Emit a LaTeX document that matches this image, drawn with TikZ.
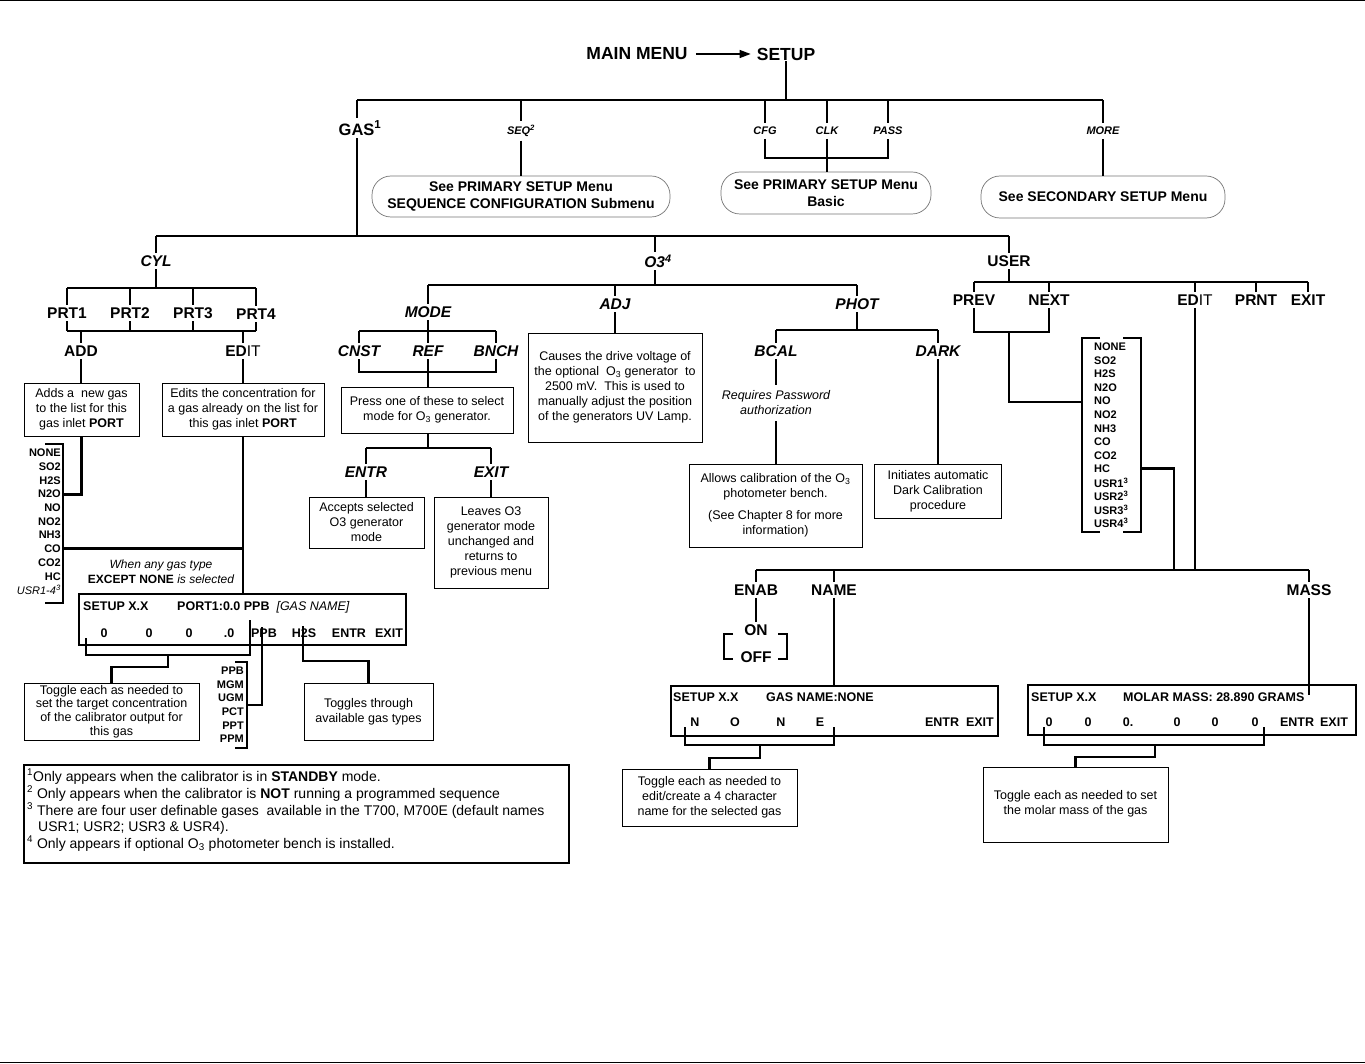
\documentclass[tikz,border=0pt]{standalone}
\usepackage{fontspec}
\setmainfont{Liberation Sans}
\usetikzlibrary{arrows.meta}
\newcommand\fsz[2]{\fontsize{#1}{#2}\selectfont}
\begin{document}
\begin{tikzpicture}[x=1pt,y=-1pt,
  thk/.style={line width=2.9pt},
  thn/.style={line width=1.6pt},
  bx/.style={draw,line width=0.9pt,align=center,font=\fsz{12.5}{15},inner sep=0pt},
  rbx/.style={draw=black!55,line width=0.7pt,rounded corners=19pt,align=center,font=\bfseries\fsz{14}{17},inner sep=0pt},
  scr/.style={draw,line width=2pt,inner sep=0pt},
  lb/.style={font=\bfseries\fsz{15.5}{18},inner sep=1pt,outer sep=2pt},
  lbi/.style={font=\bfseries\itshape\fsz{15.5}{18},inner sep=1pt,outer sep=2pt},
  sm/.style={font=\bfseries\itshape\fsz{11}{13},inner sep=1pt,outer sep=3pt},
  gl/.style={font=\bfseries\fsz{11}{13},inner sep=0pt},
  st/.style={font=\bfseries\fsz{12.5}{14},inner sep=0pt},
  fn/.style={font=\fsz{14}{16},inner sep=0pt,anchor=base west},
]
\useasboundingbox (0,0) rectangle (1365,1064);
\draw[line width=1pt] (0,1) -- (1365,1);
\draw[line width=1pt] (0,1062) -- (1365,1062);

% ---------- top ----------
\node[font=\bfseries\fsz{17.5}{20},inner sep=1pt] (main) at (637,54) {MAIN MENU};
\node[font=\bfseries\fsz{17.5}{20},inner sep=1pt] (setup) at (786,54) {SETUP};
\draw[line width=1.3pt,-{Triangle[length=11pt,width=8pt]}] ([xshift=7pt]main.east) -- ([xshift=-5pt]setup.west);
\coordinate (tbS) at (786,100);
\coordinate (tbL) at (357,100);
\coordinate (tbR) at (1103,100);
\draw[thn] (setup.south) -- (tbS);
\draw[thk] (tbL) -- (tbR);
\node[lb,font=\bfseries\fsz{16.5}{18}] (gas) at (360,128) {GAS\textsuperscript{1}};
\draw[thk] (tbL) -- (tbL |- gas.north);
\node[sm] (seq) at (521,131) {SEQ\textsuperscript{2}};
\node[sm] (cfg) at (765,131) {CFG};
\node[sm] (clk) at (827,131) {CLK};
\node[sm] (pass) at (888,131) {PASS};
\node[sm] (more) at (1103,131) {MORE};
\foreach \n in {seq,cfg,clk,pass,more} \draw[thk] (\n.north |- tbL) -- (\n.north);
\node[rbx,minimum width=298pt,minimum height=41pt] (seqbox) at (521,196.5) {See PRIMARY SETUP Menu\\SEQUENCE CONFIGURATION Submenu};
\draw[thk] (seq.south) -- (seq.south |- seqbox.north);
\node[rbx,minimum width=210pt,minimum height=42pt] (basic) at (826,193) {See PRIMARY SETUP Menu\\Basic};
\coordinate (cb) at (827,158);
\draw[thk] (cfg.south) -- (cfg.south |- cb) -- (pass.south |- cb) -- (pass.south);
\draw[thk] (clk.south) -- (clk.south |- basic.north);
\node[rbx,minimum width=244pt,minimum height=42pt] (sec) at (1103,197) {See SECONDARY SETUP Menu};
\draw[thk] (more.south) -- (more.south |- sec.north);

% ---------- gas bus ----------
\coordinate (gb) at (357,236);
\draw[thk] (tbL |- gas.south) -- (gb);
\node[lbi] (cyl) at (156,261) {CYL};
\node[lbi] (o3) at (658,261) {O3\textsuperscript{4}};
\node[lb] (user) at (1009,261) {USER};
\coordinate (o3x) at (655,236);
\draw[thk] (cyl.north |- gb) -- (user.north |- gb);
\draw[thk] (cyl.north |- gb) -- (cyl.north);
\draw[thk] (o3x) -- (o3x |- o3.north);
\draw[thk] (user.north |- gb) -- (user.north);

% ---------- CYL ----------
\coordinate (cb1) at (156,288);
\coordinate (cb2) at (156,331);
\draw[thk] (cyl.south) -- (cb1);
\node[lb] (prt1) at (67,313) {PRT1};
\node[lb] (prt2) at (130,313) {PRT2};
\node[lb] (prt3) at (193,313) {PRT3};
\node[lb] (prt4) at (256,314) {PRT4};
\draw[thk] (prt1.north |- cb1) -- (prt4.north |- cb1);
\foreach \n in {prt1,prt2,prt3,prt4} {\draw[thk] (\n.north |- cb1) -- (\n.north); \draw[thk] (\n.south) -- (\n.south |- cb2);}
\draw[thk] (prt1.south |- cb2) -- (prt4.south |- cb2);
\node[lb] (add) at (81,351) {ADD};
\node[lb] (edit) at (243,351) {ED\mdseries IT};
\draw[thk] (add.north |- cb2) -- (add.north);
\draw[thk] (edit.north |- cb2) -- (edit.north);
\node[bx,minimum width=115pt,minimum height=53pt] (addbox) at (81.5,409.5) {Adds a \ new gas\\to the list for this\\gas inlet \textbf{PORT}};
\node[bx,minimum width=162pt,minimum height=53pt] (editbox) at (243,409.5) {Edits the concentration for\\a gas already on the list for\\this gas inlet \textbf{PORT}};
\draw[thk] (add.south) -- (add.south |- addbox.north);
\draw[thk] (edit.south) -- (edit.south |- editbox.north);

\foreach \t [count=\i from 0] in {NONE,SO2,H2S,N2O,NO,NO2,NH3,CO,CO2,HC}
  \node[gl,anchor=east] (gA\i) at (61,453+13.7*\i) {\t};
\node[font=\itshape\fsz{11}{13},inner sep=0pt,anchor=east] (gA10) at (61,590) {USR1-4\textsuperscript{3}};
\coordinate (glt) at (63,444);
\coordinate (glb) at (63,603);
\draw[thk] (45,444) -- (glt) -- (glb) -- (45,603);
\draw[thk] (addbox.south) |- (glt |- gA3.east);
\draw[thk] (glt |- gA7.east) -- (edit.south |- gA7.east);
\node[font=\itshape\fsz{12}{15},align=center,inner sep=0pt] (when) at (161,572) {When any gas type\\{\upshape\bfseries EXCEPT NONE} is selected};

\node[scr,minimum width=327pt,minimum height=51pt] (port) at (242.5,619.5) {};
\draw[thk] (editbox.south) -- (editbox.south |- port.north);
\node[st,anchor=base west] (p1) at (83,610) {SETUP X.X};
\node[st,anchor=base west] (p2) at (177,610) {PORT1:0.0 PPB \ {\mdseries\itshape [GAS NAME]}};
\foreach \t/\x [count=\i] in {0/104,0/149,0/189,.0/229,PPB/264,H2S/304,ENTR/349,EXIT/389}
  \node[st,anchor=base] (pk\i) at (\x,637) {\t};
\coordinate (pbL) at (86,638);
\coordinate (pbR) at (250,620);
\coordinate (pbB) at (168,655);
\draw[thk] (pbL) -- (pbL |- pbB) -- (pbR |- pbB) -- (pbR);
\node[bx,minimum width=175pt,minimum height=57pt,font=\fsz{12.5}{13.8}] (tog1) at (111.5,711.5) {Toggle each as needed to\\set the target concentration\\of the calibrator output for\\this gas};
\draw[thk] (pbB) -- (168,667) -| (tog1.north);

\foreach \t [count=\i from 0] in {PPB,MGM,UGM,PCT,PPT,PPM}
  \node[gl,anchor=east] (u\i) at (244,671+13.6*\i) {\t};
\coordinate (ppb) at (262,627);
\draw[thk] (ppb) -- (262,705) -- (247,705);
\draw[thk] (235,662) -- (247,662) -- (247,748) -- (235,748);
\node[bx,minimum width=129pt,minimum height=57pt] (tog2) at (368.5,711.5) {Toggles through\\available gas types};
\coordinate (h2s) at (303,626);
\draw[thk] (h2s) -- (303,661) -| (tog2.north);

\node[draw,line width=1.6pt,minimum width=545pt,minimum height=98pt,inner sep=0pt] (fnbox) at (296.5,814) {};
\node[fn] (f1) at (27,781) {\textsuperscript{1}Only appears when the calibrator is in \textbf{STANDBY} mode.};
\node[fn] (f2) at (27,798) {\textsuperscript{2} Only appears when the calibrator is \textbf{NOT} running a programmed sequence};
\node[fn] (f3) at (27,815) {\textsuperscript{3} There are four user definable gases \ available in the T700, M700E (default names};
\node[fn] (f4) at (38,831) {USR1; USR2; USR3 \& USR4).};
\node[fn] (f5) at (27,848) {\textsuperscript{4} Only appears if optional O\textsubscript{3} photometer bench is installed.};

% ---------- O3 ----------
\coordinate (ob) at (655,285);
\draw[thk] (o3x |- o3.south) -- (ob);
\node[lbi] (mode) at (428,312) {MODE};
\node[lbi] (adj) at (615,304) {ADJ};
\node[lbi] (phot) at (857,304) {PHOT};
\draw[thk] (mode.north |- ob) -- (phot.north |- ob);
\foreach \n in {mode,adj,phot} \draw[thk] (\n.north |- ob) -- (\n.north);

\coordinate (mb1) at (428,331);
\coordinate (mb2) at (428,372);
\draw[thk] (mode.south) -- (mb1);
\node[lbi] (cnst) at (359,351) {CNST};
\node[lbi] (ref) at (428,351) {REF};
\node[lbi] (bnch) at (496,351) {BNCH};
\draw[thk] (cnst.north |- mb1) -- (bnch.north |- mb1);
\foreach \n in {cnst,ref,bnch} \draw[thk] (\n.north |- mb1) -- (\n.north);
\draw[thk] (cnst.south) -- (cnst.south |- mb2) -- (bnch.south |- mb2) -- (bnch.south);
\node[bx,minimum width=172pt,minimum height=46pt] (press) at (427,410) {Press one of these to select\\mode for O\textsubscript{3} generator.};
\draw[thk] (ref.south) -- (ref.south |- press.north);
\coordinate (pb2) at (428,448);
\draw[thk] (press.south -| pb2) -- (pb2);
\node[lbi] (entr) at (366,472) {ENTR};
\node[lbi] (exitm) at (491,472) {EXIT};
\draw[thk] (entr.north |- pb2) -- (exitm.north |- pb2);
\draw[thk] (entr.north |- pb2) -- (entr.north);
\draw[thk] (exitm.north |- pb2) -- (exitm.north);
\node[bx,minimum width=115pt,minimum height=51pt] (entrbox) at (366.5,522.5) {Accepts selected\\O3 generator\\mode};
\node[bx,minimum width=114pt,minimum height=91pt] (exitbox) at (491,542.5) {Leaves O3\\generator mode\\unchanged and\\returns to\\previous menu};
\draw[thk] (entr.south) -- (entr.south |- entrbox.north);
\draw[thk] (exitm.south) -- (exitm.south |- exitbox.north);

\node[bx,minimum width=174pt,minimum height=109pt] (adjbox) at (615,387.5) {Causes the drive voltage of\\the optional \ O\textsubscript{3} generator \ to\\2500 mV. \ This is used to\\manually adjust the position\\of the generators UV Lamp.};
\draw[thk] (adj.south) -- (adj.south |- adjbox.north);

\coordinate (hb) at (857,330);
\draw[thk] (phot.south) -- (hb);
\node[lbi] (bcal) at (776,351) {BCAL};
\node[lbi] (dark) at (938,351) {DARK};
\draw[thk] (bcal.north |- hb) -- (dark.north |- hb);
\draw[thk] (bcal.north |- hb) -- (bcal.north);
\draw[thk] (dark.north |- hb) -- (dark.north);
\node[font=\itshape\fsz{12.5}{15},align=center,inner sep=0pt,outer sep=6pt] (req) at (776,403) {Requires Password\\authorization};
\draw[thk] (bcal.south) -- (req.north);
\node[bx,minimum width=173pt,minimum height=83pt] (bcalbox) at (775.5,505.5) {Allows calibration of the O\textsubscript{3}\\photometer bench.\\[7pt](See Chapter 8 for more\\information)};
\draw[thk] (req.south) -- (req.south |- bcalbox.north);
\node[bx,minimum width=127pt,minimum height=54pt] (darkbox) at (938,491.5) {Initiates automatic\\Dark Calibration\\procedure};
\draw[thk] (dark.south) -- (dark.south |- darkbox.north);

% ---------- USER ----------
\coordinate (ub) at (1009,282);
\draw[thk] (user.south) -- (ub);
\node[lb] (prev) at (974,300) {PREV};
\node[lb] (next) at (1049,300) {NEXT};
\node[lb] (editu) at (1195,300) {ED\mdseries IT};
\node[lb] (prnt) at (1256,300) {PRNT};
\node[lb] (exitu) at (1308,300) {EXIT};
\draw[thk] (prev.north |- ub) -- (exitu.north |- ub);
\foreach \n in {prev,next,editu,prnt,exitu} \draw[thk] (\n.north |- ub) -- (\n.north);
\coordinate (nb) at (1009,332);
\coordinate (nl) at (1009,402);
\draw[thk] (prev.south) -- (prev.south |- nb) -- (next.south |- nb) -- (next.south);
\foreach \t [count=\i from 0] in {NONE,SO2,H2S,N2O,NO,NO2,NH3,CO,CO2,HC,USR1\textsuperscript{3},USR2\textsuperscript{3},USR3\textsuperscript{3},USR4\textsuperscript{3}}
  \node[gl,anchor=west] (gB\i) at (1094,347+13.54*\i) {\t};
\coordinate (lbL) at (1082,338);
\coordinate (lbR) at (1141,338);
\draw[thk] (nb) -- (nl) -- (lbL |- nl);
\draw[thk] (1100,338) -- (lbL) -- (1082,532) -- (1100,532);
\draw[thk] (1123,338) -- (lbR) -- (1141,532) -- (1123,532);
\coordinate (eb) at (1195,570);
\coordinate (hcx) at (1174,570);
\draw[thk] (lbR |- gB9.east) -| (hcx);
\draw[thk] (editu.south) -- (eb);
\node[lb] (enab) at (756,590) {ENAB};
\node[lb] (name) at (834,590) {NAME};
\node[lb] (mass) at (1309,590) {MASS};
\draw[thk] (enab.north |- eb) -- (mass.north |- eb);
\foreach \n in {enab,name,mass} \draw[thk] (\n.north |- eb) -- (\n.north);
\node[lb] (on) at (756,630) {ON};
\node[lb] (off) at (756,657) {OFF};
\draw[thk] (enab.south) -- (on.north);
\draw[thk] (733,634) -- (724,634) -- (724,659) -- (733,659);
\draw[thk] (778,634) -- (787,634) -- (787,659) -- (778,659);

\node[scr,minimum width=327pt,minimum height=50pt] (namescr) at (834.5,711) {};
\draw[thk] (name.south) -- (name.south |- namescr.north);
\node[st,anchor=base west] (n1) at (673,701.5) {SETUP X.X};
\node[st,anchor=base west] (n2) at (766,701.5) {GAS NAME:NONE};
\foreach \t/\x [count=\i] in {N/695,O/735,N/781,E/820}
  \node[st,anchor=base] (nk\i) at (\x,726.5) {\t};
\node[st,anchor=base east] (n3) at (994,726.5) {ENTR\ \ EXIT};
\coordinate (nbL) at (685,727);
\coordinate (nbR) at (834,727);
\coordinate (nbB) at (760,745);
\draw[thk] (nbL) -- (nbL |- nbB) -- (nbR |- nbB) -- (nbR);
\node[bx,minimum width=175pt,minimum height=57pt] (tog3) at (709.5,797.5) {Toggle each as needed to\\edit/create a 4 character\\name for the selected gas};
\draw[thk] (nbB) -- (760,758) -| (tog3.north);

\node[scr,minimum width=328pt,minimum height=50pt] (massscr) at (1192,710) {};
\coordinate (mend) at (1309,695);
\draw[thk] (mass.south) -- (mass.south |- mend);
\node[st,anchor=base west] (m1) at (1031,701.5) {SETUP X.X};
\node[st,anchor=base west] (m2) at (1123,701.5) {MOLAR MASS: 28.890 GRAMS};
\foreach \t/\x [count=\i] in {0/1049,0/1088,0./1128,0/1177,0/1215,0/1255,ENTR/1297,EXIT/1334}
  \node[st,anchor=base] (mk\i) at (\x,726.5) {\t};
\coordinate (mbL) at (1044,727);
\coordinate (mbR) at (1264,727);
\coordinate (mbB) at (1155,745);
\draw[thk] (mbL) -- (mbL |- mbB) -- (mbR |- mbB) -- (mbR);
\node[bx,minimum width=185pt,minimum height=75pt] (tog4) at (1075.5,804.5) {};
\node[font=\fsz{12.5}{15},align=center,inner sep=0pt] (tog4t) at (1075.5,803.5) {Toggle each as needed to set\\the molar mass of the gas};
\draw[thk] (mbB) -- (1155,757) -| (tog4.north);
\end{tikzpicture}
\end{document}
